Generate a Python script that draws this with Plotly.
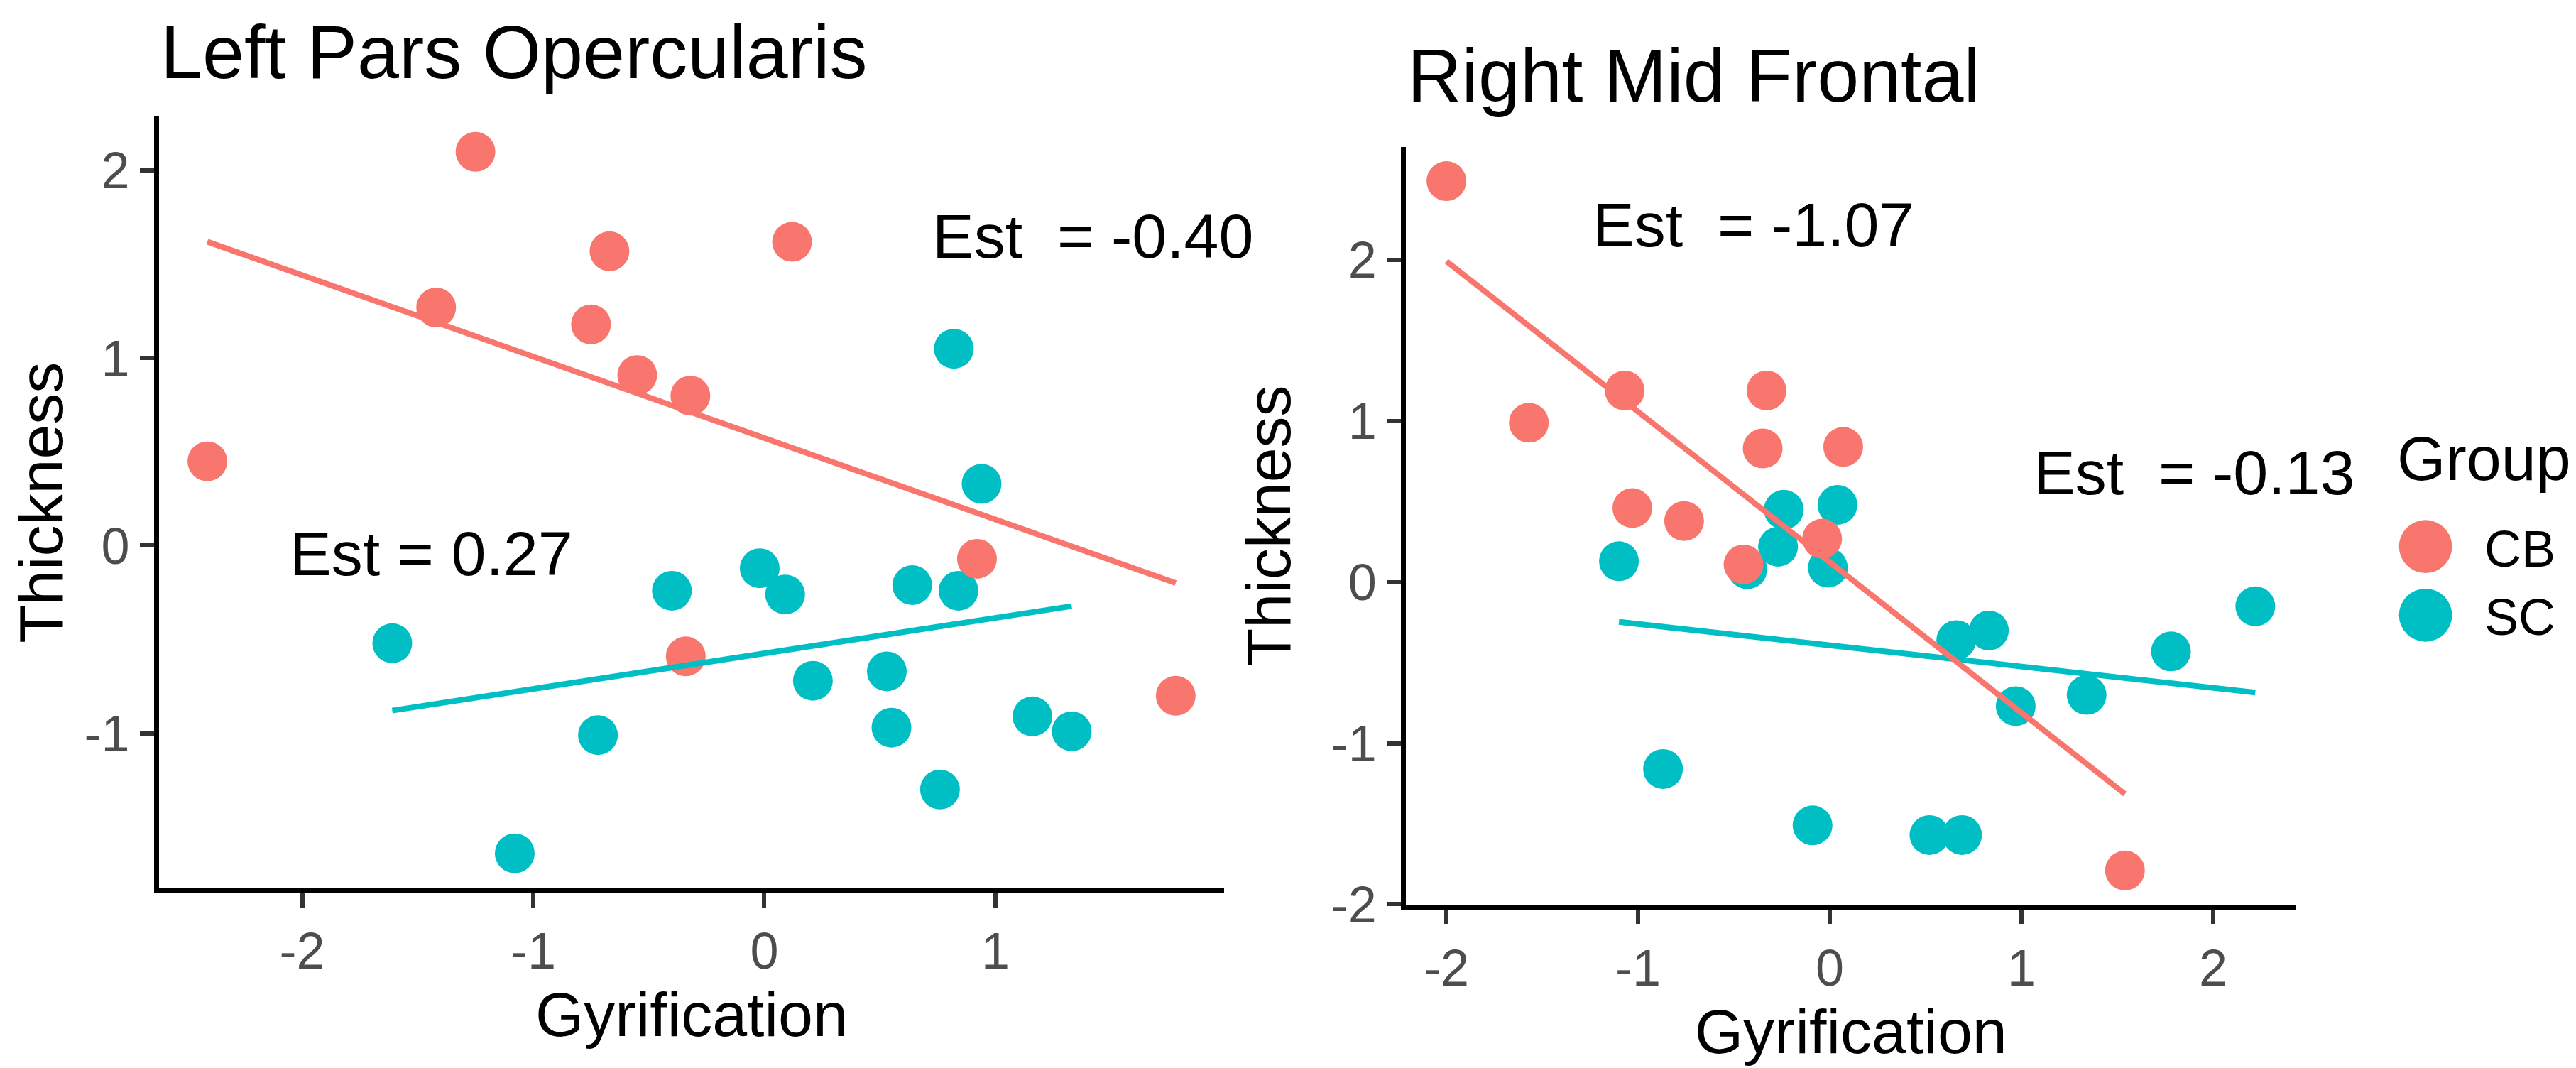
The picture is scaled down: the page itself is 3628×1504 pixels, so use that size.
import numpy as np
import plotly.graph_objects as go

# colours used by ggplot's default two-level hue palette
CB_COLOR = "#F8766D"
SC_COLOR = "#00BFC4"
FONT = "Liberation Sans, Arial, sans-serif"

groups = ["CB", "SC"]

# Left Pars Opercularis
left_cb_x = [-1.25, -1.42, -0.67, -0.75, -0.55, -0.32, 0.12, -2.41, 0.92, -0.34, 1.78]
left_cb_y = [2.10, 1.27, 1.57, 1.18, 0.91, 0.80, 1.62, 0.45, -0.07, -0.59, -0.80]
left_sc_x = [0.82, 0.94, -0.02, 0.09, -0.40, 0.64, 0.84, -1.61, 0.21, 0.53, 0.55,
             -0.72, 1.16, 1.33, 0.76, -1.08]
left_sc_y = [1.05, 0.33, -0.12, -0.26, -0.24, -0.21, -0.24, -0.52, -0.72, -0.67, -0.97,
             -1.01, -0.91, -0.99, -1.30, -1.64]

# Right Mid Frontal
right_cb_x = [-2.00, -1.57, -1.07, -1.03, -0.76, -0.33, -0.35, 0.07, -0.04, -0.45, 1.54]
right_cb_y = [2.49, 0.99, 1.19, 0.46, 0.38, 1.19, 0.83, 0.84, 0.27, 0.11, -1.79]
right_sc_x = [-1.10, -0.43, -0.24, -0.27, 0.04, -0.01, 0.66, 0.83, 0.97, 1.34, 1.78,
              2.22, -0.87, -0.09, 0.52, 0.69]
right_sc_y = [0.13, 0.08, 0.45, 0.22, 0.48, 0.09, -0.36, -0.30, -0.77, -0.70, -0.43,
              -0.15, -1.16, -1.51, -1.57, -1.57]

titles = ["Left Pars Opercularis", "Right Mid Frontal"]
estimates = [
    ("Est\u00a0 = -0.40", 1.42, 1.65),
    ("Est = 0.27", -1.44, -0.04),
    ("Est\u00a0 = -1.07", -0.40, 2.22),
    ("Est\u00a0 = -0.13", 1.90, 0.68),
]

left_xticks = [-2, -1, 0, 1]
left_yticks = [-1, 0, 1, 2]
right_xticks = [-2, -1, 0, 1, 2]
right_yticks = [-2, -1, 0, 1, 2]


def expanded_range(*values, mult=0.05):
    # same 5% padding ggplot puts around continuous scales
    allv = np.concatenate([np.asarray(v, dtype=float) for v in values])
    lo, hi = allv.min(), allv.max()
    pad = (hi - lo) * mult
    return [lo - pad, hi + pad]


def fit_line(x, y):
    slope, intercept = np.polyfit(x, y, 1)
    xs = np.array([min(x), max(x)])
    return xs, slope * xs + intercept


fig = go.Figure()

panels = [
    ("x", "y", left_cb_x, left_cb_y, left_sc_x, left_sc_y, True),
    ("x2", "y2", right_cb_x, right_cb_y, right_sc_x, right_sc_y, False),
]

for xa, ya, cb_x, cb_y, sc_x, sc_y, show in panels:
    # points first, regression lines drawn over them
    for name, gx, gy, color in [("SC", sc_x, sc_y, SC_COLOR), ("CB", cb_x, cb_y, CB_COLOR)]:
        fig.add_trace(
            go.Scatter(
                x=gx, y=gy, mode="markers", name=name, legendgroup=name,
                showlegend=show, xaxis=xa, yaxis=ya,
                marker=dict(size=56, color=color, line=dict(width=0)),
                legendrank=1 if name == "CB" else 2,
            )
        )
    for name, gx, gy, color in [("SC", sc_x, sc_y, SC_COLOR), ("CB", cb_x, cb_y, CB_COLOR)]:
        lx, ly = fit_line(gx, gy)
        fig.add_trace(
            go.Scatter(
                x=lx, y=ly, mode="lines", legendgroup=name, showlegend=False,
                xaxis=xa, yaxis=ya, line=dict(color=color, width=8),
            )
        )

axis_style = dict(
    showline=True, linecolor="black", linewidth=7,
    ticks="outside", ticklen=20, tickwidth=6, tickcolor="#333333",
    showgrid=False, zeroline=False, automargin=False,
    tickfont=dict(size=72, color="#4D4D4D", family=FONT),
    title_font=dict(size=88, color="black", family=FONT),
)

fig.update_layout(
    xaxis=dict(
        axis_style, domain=[0.0595, 0.473],
        range=expanded_range(left_cb_x, left_sc_x),
        tickvals=left_xticks, ticktext=[str(t) for t in left_xticks],
        title=dict(text="Gyrification", standoff=12), anchor="y",
    ),
    yaxis=dict(
        axis_style, domain=[0.1735, 0.896],
        range=expanded_range(left_cb_y, left_sc_y),
        tickvals=left_yticks, ticktext=[str(t) for t in left_yticks],
        title=dict(text="Thickness", standoff=30), anchor="x",
    ),
    xaxis2=dict(
        axis_style, domain=[0.5436, 0.889],
        range=expanded_range(right_cb_x, right_sc_x),
        tickvals=right_xticks, ticktext=[str(t) for t in right_xticks],
        title=dict(text="Gyrification", standoff=12), anchor="y2",
    ),
    yaxis2=dict(
        axis_style, domain=[0.158, 0.868],
        range=expanded_range(right_cb_y, right_sc_y),
        tickvals=right_yticks, ticktext=[str(t) for t in right_yticks],
        title=dict(text="Thickness", standoff=30), anchor="x2",
    ),
)

# panel titles
for xref, title, ypos in [("x domain", titles[0], 0.957), ("x2 domain", titles[1], 0.935)]:
    fig.add_annotation(
        text=title, xref=xref, yref="paper", x=0, y=ypos,
        xanchor="left", yanchor="middle", showarrow=False,
        font=dict(size=106, color="black", family=FONT),
    )

# slope estimates
for i, (text, ex, ey) in enumerate(estimates):
    xr, yr = ("x", "y") if i < 2 else ("x2", "y2")
    fig.add_annotation(
        text=text, xref=xr, yref=yr, x=ex, y=ey, showarrow=False,
        xanchor="center", yanchor="middle",
        font=dict(size=88, color="black", family=FONT),
    )

# legend heading
fig.add_annotation(
    text="Group", xref="paper", yref="paper", x=0.9278, y=0.576,
    xanchor="left", yanchor="middle", showarrow=False,
    font=dict(size=88, color="black", family=FONT),
)

fig.update_layout(
    width=3628, height=1504, autosize=False,
    margin={"r": 0, "t": 0, "l": 0, "b": 0},
    paper_bgcolor="white", plot_bgcolor="white",
    font=dict(family=FONT, color="black"),
    showlegend=True,
    legend=dict(
        font=dict(size=72, color="black"),
        x=0.9165, y=0.529, xanchor="left", yanchor="top",
        itemwidth=156, bgcolor="rgba(0,0,0,0)", tracegroupgap=0,
    ),
)

# plotly caps legend symbols at a small size; enlarge the keys to match the points
grow_keys = """
var gd = document.getElementById('{plot_id}');
function growKeys() {
  gd.querySelectorAll('.legendpoints path.scatterpts').forEach(function (p) {
    var t = p.getAttribute('transform') || '';
    if (t.indexOf('scale') < 0) { p.setAttribute('transform', t + ' scale(4.67)'); }
  });
}
growKeys();
gd.on('plotly_afterplot', growKeys);
"""

fig.write_html("out.html", post_script=grow_keys)
